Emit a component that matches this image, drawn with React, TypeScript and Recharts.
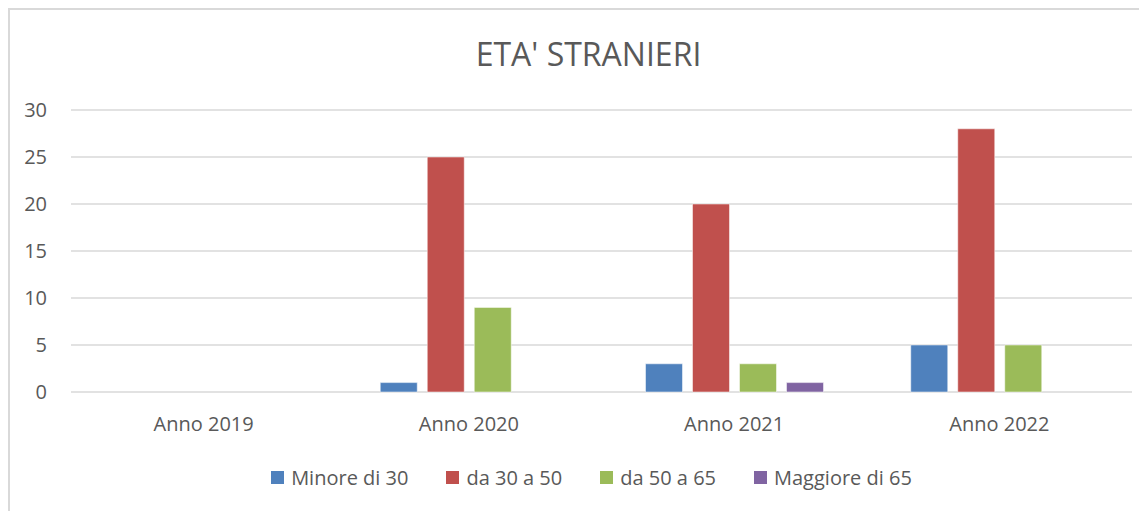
import React from 'react';
import { Bar, BarChart, CartesianGrid, Legend, XAxis, YAxis } from 'recharts';

const years = ['Anno 2019', 'Anno 2020', 'Anno 2021', 'Anno 2022'];
const minore30 = [0, 1, 3, 5];
const da30a50 = [0, 25, 20, 28];
const da50a65 = [0, 9, 3, 5];
const maggiore65 = [0, 0, 1, 0];
const yTicks = [0, 5, 10, 15, 20, 25, 30];

const SERIES = [
    { key: 'minore', name: 'Minore di 30', color: '#4F81BD' },
    { key: 'da30', name: 'da 30 a 50', color: '#C0504D' },
    { key: 'da50', name: 'da 50 a 65', color: '#9BBB59' },
    { key: 'magg', name: 'Maggiore di 65', color: '#8064A2' },
];

const data = years.map((year, i) => ({
    year,
    minore: minore30[i],
    da30: da30a50[i],
    da50: da50a65[i],
    magg: maggiore65[i],
}));

const FONT = '"Open Sans", sans-serif';
const TEXT = '#595959';

const ChartLegend = () => (
    <div style={{ display: 'flex', justifyContent: 'center', alignItems: 'center', height: 40, fontFamily: FONT, fontSize: 20, color: TEXT }}>
        {SERIES.map((s, i) => (
            <div key={s.key} style={{ display: 'flex', alignItems: 'center', marginLeft: i === 0 ? 0 : 38 }}>
                <span style={{ display: 'inline-block', width: 13, height: 13, background: s.color, marginRight: 7 }} />
                <span>{s.name}</span>
            </div>
        ))}
    </div>
);

const App = () => {
    return (
        <div style={{ position: 'relative', width: 1137, height: 501, borderLeft: '2px solid #d9d9d9', borderTop: '2px solid #d9d9d9', background: '#fff' }}>
            <div style={{ position: 'absolute', top: 28, left: 0, width: 1157, textAlign: 'center', fontFamily: FONT, fontSize: 32, lineHeight: '32px', color: TEXT }}>
                ETA' STRANIERI
            </div>
            <BarChart width={1137} height={501} data={data} margin={{ top: 100, right: 15, left: 0, bottom: 14 }} barSize={37} barGap={10}>
                <CartesianGrid vertical={false} stroke="#d9d9d9" strokeWidth={1.5} />
                <XAxis
                    dataKey="year"
                    height={65}
                    axisLine={false}
                    tickLine={false}
                    tickSize={0}
                    tickMargin={25}
                    tick={{ fill: TEXT, fontSize: 20, fontFamily: FONT }}
                />
                <YAxis
                    width={61}
                    domain={[0, 30]}
                    ticks={yTicks}
                    axisLine={false}
                    tickLine={false}
                    tickSize={0}
                    tickMargin={24}
                    tick={{ fill: TEXT, fontSize: 20, fontFamily: FONT }}
                />
                <Legend verticalAlign="bottom" height={40} content={() => <ChartLegend />} wrapperStyle={{ left: 51, width: 1061 }} />
                {SERIES.map((s) => (
                    <Bar
                        key={s.key}
                        dataKey={s.key}
                        name={s.name}
                        fill={s.color}
                        stroke="#ffffff"
                        strokeOpacity={0.5}
                        isAnimationActive={false}
                    />
                ))}
            </BarChart>
        </div>
    );
};

export default App;
